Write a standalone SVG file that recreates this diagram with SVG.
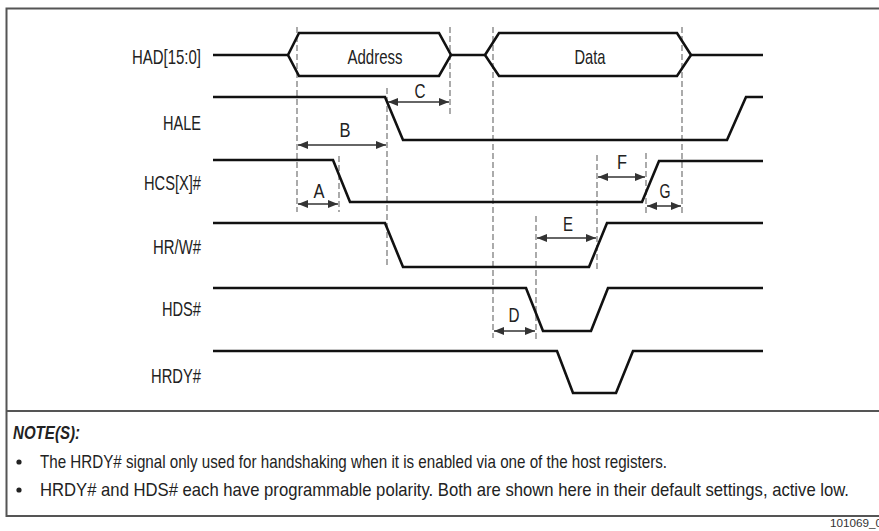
<svg xmlns="http://www.w3.org/2000/svg" width="879" height="531" viewBox="0 0 879 531">
<style>
.frame{fill:none;stroke:#555;stroke-width:2}
.sig{fill:none;stroke:#111;stroke-width:2.6;stroke-linejoin:miter}
.dash{fill:none;stroke:#666;stroke-width:1.1;stroke-dasharray:6,3}
.dim{fill:none;stroke:#333;stroke-width:1.6;marker-start:url(#ah);marker-end:url(#ah)}
.lbl{font-family:"Liberation Sans",Arial,sans-serif;font-size:21px;fill:#222}
.note{font-family:"Liberation Sans",Arial,sans-serif;font-size:18.5px;fill:#222}
</style>
<defs>
<marker id="ah" viewBox="0 0 10 8" refX="10" refY="4" markerWidth="10" markerHeight="8" markerUnits="userSpaceOnUse" orient="auto-start-reverse">
<path d="M0,0 L10,4 L0,8 Z" fill="#333"/>
</marker>
</defs>
<rect x="0" y="0" width="879" height="531" fill="#fff"/>
<g id="frame">
<path class="frame" d="M879,8.5 H6.5 V516 H879"/>
<path class="frame" d="M6.5,411 H879"/>
</g>
<g id="signal-labels">
<text class="lbl" x="201" y="64" text-anchor="end" textLength="69" lengthAdjust="spacingAndGlyphs">HAD[15:0]</text>
<text class="lbl" x="201" y="130" text-anchor="end" textLength="38" lengthAdjust="spacingAndGlyphs">HALE</text>
<text class="lbl" x="201" y="190" text-anchor="end" textLength="57" lengthAdjust="spacingAndGlyphs">HCS[X]#</text>
<text class="lbl" x="201" y="254" text-anchor="end" textLength="48" lengthAdjust="spacingAndGlyphs">HR/W#</text>
<text class="lbl" x="201" y="316" text-anchor="end" textLength="39" lengthAdjust="spacingAndGlyphs">HDS#</text>
<text class="lbl" x="201" y="383" text-anchor="end" textLength="50" lengthAdjust="spacingAndGlyphs">HRDY#</text>
</g>
<g id="guides">
<line class="dash" x1="297" y1="27" x2="297" y2="212"/>
<line class="dash" x1="450" y1="27" x2="450" y2="117"/>
<line class="dash" x1="493" y1="27" x2="493" y2="338"/>
<line class="dash" x1="682" y1="27" x2="682" y2="213"/>
<line class="dash" x1="387" y1="88" x2="387" y2="267"/>
<line class="dash" x1="339" y1="156" x2="339" y2="212"/>
<line class="dash" x1="597" y1="155" x2="597" y2="269"/>
<line class="dash" x1="646" y1="153" x2="646" y2="215"/>
<line class="dash" x1="536" y1="216" x2="536" y2="342"/>
</g>
<g id="HAD">
<path class="sig" d="M213,55 H288 M451,55 H485 M691,55 H763"/>
<path class="sig" d="M288,55 L299,33 H439 L451,55 L439,76 H299 Z"/>
<path class="sig" d="M485,55 L499,33 H677 L691,55 L677,76 H499 Z"/>
<text class="lbl" x="375" y="64" text-anchor="middle" textLength="55" lengthAdjust="spacingAndGlyphs">Address</text>
<text class="lbl" x="590" y="64" text-anchor="middle" textLength="31" lengthAdjust="spacingAndGlyphs">Data</text>
</g>
<g id="HALE">
<path class="sig" d="M213,97 H385 L403,140 H727 L746,97 H763"/>
</g>
<g id="HCS">
<path class="sig" d="M213,160 H333 L350,202 H642 L659,161 H763"/>
</g>
<g id="HRW">
<path class="sig" d="M213,223 H385 L403,267 H589 L607,223 H763"/>
</g>
<g id="HDS">
<path class="sig" d="M213,288 H526 L543,331 H591 L608,288 H763"/>
</g>
<g id="HRDY">
<path class="sig" d="M213,351 H557 L573,393 H616 L633,351 H763"/>
</g>
<g id="connectors">
<line class="dim" x1="298" y1="145" x2="386" y2="145"/>
<line class="dim" x1="388" y1="102" x2="449" y2="102"/>
<line class="dim" x1="298" y1="204" x2="338" y2="204"/>
<line class="dim" x1="598" y1="177" x2="645" y2="177"/>
<line class="dim" x1="647" y1="206" x2="681" y2="206"/>
<line class="dim" x1="537" y1="238" x2="596" y2="238"/>
<line class="dim" x1="494" y1="331" x2="535" y2="331"/>
</g>
<g id="timing-labels">
<text class="lbl" x="345" y="137" text-anchor="middle" textLength="11" lengthAdjust="spacingAndGlyphs">B</text>
<text class="lbl" x="420" y="98" text-anchor="middle" textLength="11" lengthAdjust="spacingAndGlyphs">C</text>
<text class="lbl" x="319" y="198" text-anchor="middle" textLength="11" lengthAdjust="spacingAndGlyphs">A</text>
<text class="lbl" x="622" y="169" text-anchor="middle" textLength="10" lengthAdjust="spacingAndGlyphs">F</text>
<text class="lbl" x="665" y="198" text-anchor="middle" textLength="11" lengthAdjust="spacingAndGlyphs">G</text>
<text class="lbl" x="568" y="231" text-anchor="middle" textLength="10" lengthAdjust="spacingAndGlyphs">E</text>
<text class="lbl" x="514" y="322" text-anchor="middle" textLength="11" lengthAdjust="spacingAndGlyphs">D</text>
</g>
<g id="notes">
<text class="note" x="13" y="439" font-weight="bold" font-style="italic" textLength="67" lengthAdjust="spacingAndGlyphs">NOTE(S):</text>
<circle cx="19" cy="462" r="2.6" fill="#222"/>
<text class="note" x="40" y="468" textLength="627" lengthAdjust="spacingAndGlyphs">The HRDY# signal only used for handshaking when it is enabled via one of the host registers.</text>
<circle cx="19" cy="490" r="2.6" fill="#222"/>
<text class="note" x="40" y="496" textLength="809" lengthAdjust="spacingAndGlyphs">HRDY# and HDS# each have programmable polarity. Both are shown here in their default settings, active low.</text>
<text x="830" y="527" font-family="Liberation Sans, Arial, sans-serif" font-size="10" fill="#333" textLength="52" lengthAdjust="spacingAndGlyphs">101069_0</text>
</g>
</svg>
